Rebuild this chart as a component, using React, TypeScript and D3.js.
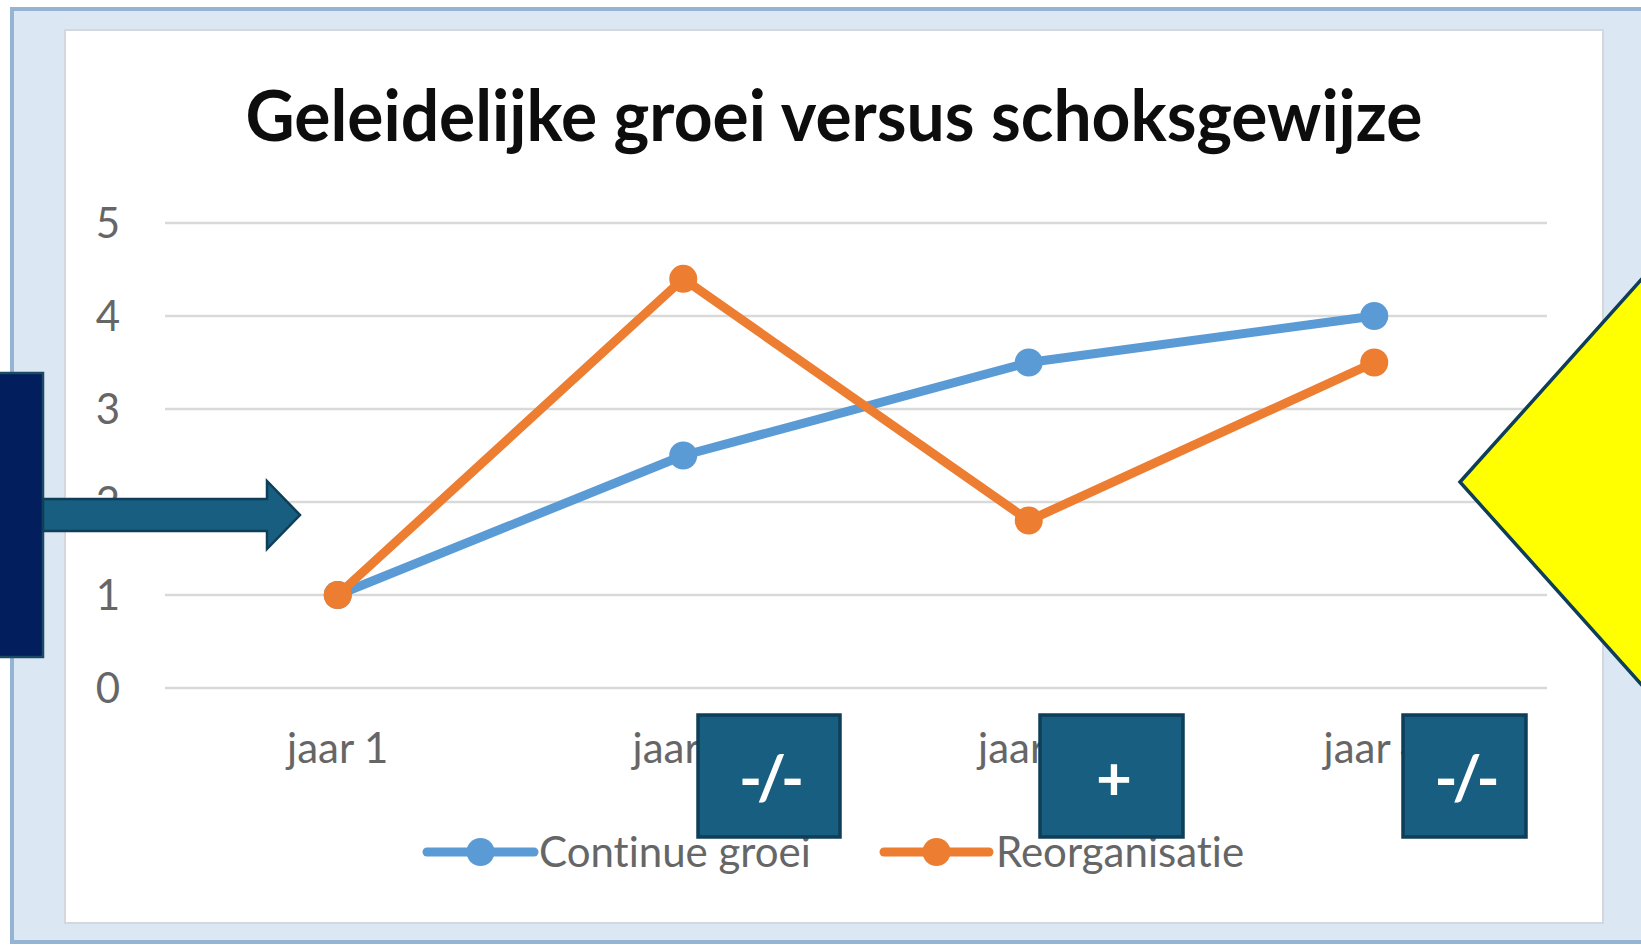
import React, { useEffect, useRef } from 'react';
import * as d3 from 'd3';

const categories = ['jaar 1', 'jaar 2', 'jaar 3', 'jaar 4'];
const continueGroei = [1, 2.5, 3.5, 4];
const reorganisatie = [1, 4.4, 1.8, 3.5];
const yTicks = [0, 1, 2, 3, 4, 5];
const seriesNames = ['Continue groei', 'Reorganisatie'];
const seriesColors = ['#5b9bd5', '#ed7d31'];
const boxLabels = ['-/-', '+', '-/-'];

const W = 1641;
const H = 947;
const FONT = 'Lato, "Open Sans", sans-serif';

export default function App() {
  const svgRef = useRef<SVGSVGElement>(null);

  useEffect(() => {
    const svg = d3.select(svgRef.current);
    svg.selectAll('*').remove();

    // frame
    svg.append('rect').attr('x', 0).attr('y', 0).attr('width', W).attr('height', H).attr('fill', '#ffffff');
    svg.append('rect')
      .attr('x', 12).attr('y', 9).attr('width', W + 20).attr('height', 933)
      .attr('fill', '#dce7f4').attr('stroke', '#95b3d3').attr('stroke-width', 4);
    svg.append('rect')
      .attr('x', 65).attr('y', 30).attr('width', 1538).attr('height', 893)
      .attr('fill', '#ffffff').attr('stroke', '#d4d8dc').attr('stroke-width', 2);

    const x = d3.scalePoint<string>().domain(categories).range([165, 1547]).padding(0.5);
    const y = d3.scaleLinear().domain([0, 5]).range([688, 223]);

    // title
    svg.append('text')
      .attr('x', 834).attr('y', 141)
      .attr('text-anchor', 'middle')
      .attr('textLength', 1177)
      .attr('lengthAdjust', 'spacingAndGlyphs')
      .style('font-family', FONT)
      .style('font-size', '70px')
      .style('font-weight', 'bold')
      .style('fill', '#0d0d0d')
      .text('Geleidelijke groei versus schoksgewijze');

    // gridlines
    svg.append('g').selectAll('line')
      .data(yTicks)
      .enter()
      .append('line')
      .attr('x1', 165).attr('x2', 1547)
      .attr('y1', d => y(d)).attr('y2', d => y(d))
      .attr('stroke', '#d9d9d9').attr('stroke-width', 2.5);

    // y labels
    svg.append('g').selectAll('text')
      .data(yTicks)
      .enter()
      .append('text')
      .attr('x', 120).attr('y', d => y(d))
      .attr('dy', '0.36em')
      .attr('text-anchor', 'end')
      .style('font-family', FONT)
      .style('font-size', '42px')
      .style('fill', '#666666')
      .text(d => d);

    // x labels
    svg.append('g').selectAll('text')
      .data(categories)
      .enter()
      .append('text')
      .attr('x', d => x(d)!).attr('y', 763)
      .attr('text-anchor', 'middle')
      .style('font-family', FONT)
      .style('font-size', '42px')
      .style('fill', '#666666')
      .text(d => d);

    // series
    const allSeries = [continueGroei, reorganisatie];
    const line = d3.line<number>()
      .x((_, i) => x(categories[i])!)
      .y(d => y(d));

    allSeries.forEach((vals, si) => {
      const g = svg.append('g');
      g.append('path')
        .attr('d', line(vals) || '')
        .attr('fill', 'none')
        .attr('stroke', seriesColors[si])
        .attr('stroke-width', 9)
        .attr('stroke-linejoin', 'round')
        .attr('stroke-linecap', 'round');
      g.selectAll('circle')
        .data(vals)
        .enter()
        .append('circle')
        .attr('cx', (_, i) => x(categories[i])!)
        .attr('cy', d => y(d))
        .attr('r', 14)
        .attr('fill', seriesColors[si]);
    });

    // legend
    const legendItems = [
      { x0: 427, x1: 534, tx: 539 },
      { x0: 884, x1: 989, tx: 996 },
    ];
    legendItems.forEach((it, i) => {
      const lg = svg.append('g');
      lg.append('line')
        .attr('x1', it.x0).attr('x2', it.x1).attr('y1', 852).attr('y2', 852)
        .attr('stroke', seriesColors[i]).attr('stroke-width', 9).attr('stroke-linecap', 'round');
      lg.append('circle')
        .attr('cx', (it.x0 + it.x1) / 2).attr('cy', 852).attr('r', 14)
        .attr('fill', seriesColors[i]);
      lg.append('text')
        .attr('x', it.tx).attr('y', 852).attr('dy', '0.36em')
        .style('font-family', FONT)
        .style('font-size', '42px')
        .style('font-variant-ligatures', 'none')
        .style('fill', '#666666')
        .text(seriesNames[i]);
    });

    // annotations: navy bar + arrow on the left
    svg.append('rect')
      .attr('x', -4).attr('y', 373).attr('width', 47).attr('height', 284)
      .attr('fill', '#021e5c').attr('stroke', '#1a4a66').attr('stroke-width', 2.5);
    const arrow = d3.path();
    arrow.moveTo(43, 499);
    arrow.lineTo(267, 499);
    arrow.lineTo(267, 481);
    arrow.lineTo(300, 515);
    arrow.lineTo(267, 549);
    arrow.lineTo(267, 531);
    arrow.lineTo(43, 531);
    arrow.closePath();
    svg.append('path')
      .attr('d', arrow.toString())
      .attr('fill', '#175e80').attr('stroke', '#0f3e58').attr('stroke-width', 2.5)
      .attr('stroke-linejoin', 'miter');

    // yellow diamond on the right
    const diamond = d3.path();
    diamond.moveTo(1460, 482);
    diamond.lineTo(1760, 147);
    diamond.lineTo(2060, 482);
    diamond.lineTo(1760, 817);
    diamond.closePath();
    svg.append('path')
      .attr('d', diamond.toString())
      .attr('fill', '#ffff00').attr('stroke', '#0f3e58').attr('stroke-width', 3.5);

    // boxes under the categories
    const boxes = [
      { x0: 698, x1: 840 },
      { x0: 1040, x1: 1183 },
      { x0: 1403, x1: 1526 },
    ];
    boxes.forEach((b, i) => {
      const bg = svg.append('g');
      bg.append('rect')
        .attr('x', b.x0).attr('y', 715).attr('width', b.x1 - b.x0).attr('height', 122)
        .attr('fill', '#175e80').attr('stroke', '#0f3e58').attr('stroke-width', 3.5);
      bg.append('text')
        .attr('x', (b.x0 + b.x1) / 2).attr('y', 778).attr('dy', '0.36em')
        .attr('text-anchor', 'middle')
        .style('font-family', FONT)
        .style('font-size', '62px')
        .style('font-weight', 'bold')
        .style('letter-spacing', '-5px')
        .style('fill', '#ffffff')
        .text(boxLabels[i]);
    });
  }, []);

  return (
    <div>
      <svg
        ref={svgRef}
        width={W}
        height={H}
        style={{ position: 'absolute', left: 0, top: 0, display: 'block' }}
      ></svg>
    </div>
  );
}
